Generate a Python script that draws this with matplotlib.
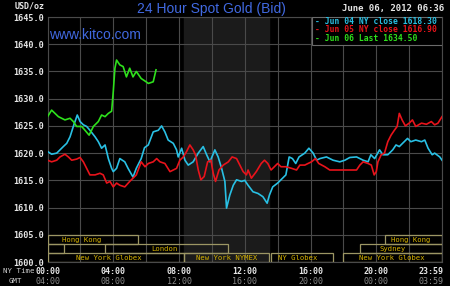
import matplotlib
matplotlib.use("Agg")
import matplotlib.pyplot as plt
from matplotlib.patches import Rectangle
import matplotlib.transforms as mtransforms

# hours since midnight NY time, bid price USD/oz
jun04_t = [0, 0.25, 0.56, 0.76, 0.96, 1.17, 1.37, 1.57, 1.81, 1.98, 2.18, 2.38, 2.58, 2.89,
           3.09, 3.29, 3.5, 3.7, 3.9, 4.0, 4.2, 4.4, 4.7, 4.9, 5.2, 5.4, 5.7, 5.9, 6.13, 6.43,
           6.74, 6.94, 7.14, 7.34, 7.65, 7.85, 7.95, 8.16, 8.36, 8.56, 8.86, 9.17, 9.47, 9.68,
           9.88, 10.18, 10.38, 10.59, 10.79, 10.89, 11.09, 11.3, 11.5, 11.8, 12.0, 12.2, 12.5,
           12.8, 13.1, 13.36, 13.5, 13.7, 14.0, 14.3, 14.5, 14.7, 14.9, 15.1, 15.3, 15.65, 15.9,
           16.16, 16.37, 16.57, 16.97, 17.37, 17.78, 18.09, 18.39, 18.8, 19.2, 19.5, 19.67, 19.9,
           20.2, 20.4, 20.7, 21.0, 21.2, 21.4, 21.7, 21.9, 22.1, 22.4, 22.75, 22.95, 23.15, 23.4,
           23.55, 23.86, 24.0]
jun04_p = [1620.3, 1619.8, 1620.0, 1620.6, 1621.2, 1621.8, 1623.0, 1624.9, 1627.0, 1625.8, 1625.2,
           1624.9, 1624.2, 1623.0, 1622.1, 1620.9, 1621.5, 1619.0, 1617.2, 1616.6, 1617.2, 1619.0,
           1618.4, 1617.2, 1615.6, 1617.2, 1619.0, 1621.0, 1621.5, 1623.9, 1624.2, 1625.0, 1623.9,
           1622.4, 1621.8, 1620.6, 1619.3, 1620.9, 1618.7, 1617.8, 1618.4, 1620.0, 1621.2, 1619.7,
           1618.4, 1620.6, 1619.3, 1617.2, 1614.8, 1609.9, 1612.3, 1614.1, 1615.1, 1614.8, 1615.0,
           1614.1, 1612.9, 1612.6, 1612.0, 1610.8, 1612.3, 1613.8, 1614.5, 1615.4, 1616.0, 1619.3,
           1619.0, 1618.1, 1619.3, 1620.0, 1620.9, 1620.0, 1618.7, 1619.0, 1619.3, 1618.7, 1618.4,
           1618.7, 1619.2, 1619.3, 1618.7, 1618.4, 1619.7, 1619.0, 1620.6, 1619.7, 1619.7, 1620.6,
           1621.5, 1621.2, 1622.1, 1622.7, 1622.1, 1622.4, 1622.1, 1622.4, 1620.9, 1619.7, 1620.0,
           1619.3, 1618.7]

jun05_t = [0, 0.25, 0.56, 0.76, 1.06, 1.27, 1.47, 1.77, 1.98, 2.18, 2.38, 2.58, 2.89, 3.19, 3.39,
           3.6, 3.8, 4.0, 4.2, 4.4, 4.7, 5.0, 5.2, 5.4, 5.7, 5.93, 6.13, 6.43, 6.64, 6.84, 7.14,
           7.45, 7.65, 7.85, 8.05, 8.26, 8.46, 8.66, 8.86, 9.0, 9.17, 9.33, 9.53, 9.74, 9.94,
           10.08, 10.22, 10.43, 10.69, 11.0, 11.23, 11.5, 11.7, 11.9, 12.1, 12.2, 12.4, 12.7,
           13.0, 13.2, 13.4, 13.6, 13.8, 14.0, 14.2, 14.5, 14.85, 15.15, 15.35, 15.65, 15.85,
           16.06, 16.3, 16.5, 16.87, 17.17, 17.68, 18.09, 18.5, 18.8, 19.0, 19.2, 19.5, 19.7,
           19.87, 20.0, 20.1, 20.3, 20.5, 20.7, 20.9, 21.1, 21.27, 21.4, 21.57, 21.77, 22.0,
           22.2, 22.4, 22.75, 23.05, 23.35, 23.55, 23.75, 24.0]
jun05_p = [1618.7, 1618.4, 1618.7, 1619.3, 1619.8, 1619.3, 1618.7, 1618.9, 1619.2, 1618.4, 1617.2,
           1616.0, 1616.0, 1616.3, 1616.0, 1614.5, 1614.8, 1613.8, 1614.5, 1614.1, 1613.8, 1614.8,
           1615.4, 1616.0, 1618.4, 1617.5, 1618.1, 1618.4, 1619.0, 1618.4, 1618.1, 1616.6, 1616.9,
           1617.2, 1618.7, 1619.3, 1620.3, 1621.5, 1620.6, 1619.7, 1616.9, 1615.1, 1615.7, 1618.4,
           1618.7, 1616.3, 1614.8, 1616.9, 1617.8, 1618.4, 1619.3, 1619.0, 1617.8, 1616.6, 1616.0,
           1616.9, 1615.4, 1616.6, 1618.1, 1618.7, 1618.1, 1616.9, 1617.5, 1618.1, 1617.5, 1617.5,
           1617.2, 1616.9, 1617.8, 1617.8, 1618.1, 1618.4, 1619.0, 1618.1, 1617.5, 1616.9, 1616.9,
           1616.9, 1616.9, 1616.9, 1617.8, 1618.4, 1618.1, 1617.8, 1616.0, 1616.6, 1618.4, 1619.7,
           1620.0, 1622.1, 1623.3, 1624.2, 1624.9, 1627.3, 1626.1, 1625.0, 1625.5, 1626.1, 1624.9,
           1625.5, 1625.3, 1625.8, 1625.2, 1625.5, 1626.7]

jun06_t = [0, 0.25, 0.66, 1.06, 1.37, 1.57, 1.77, 2.08, 2.28, 2.53, 2.79, 3.09, 3.29, 3.5, 3.7,
           3.9, 4.0, 4.1, 4.2, 4.4, 4.6, 4.8, 5.0, 5.2, 5.4, 5.7, 6.0, 6.13, 6.43, 6.6]
jun06_p = [1626.7, 1627.9, 1626.7, 1626.1, 1626.4, 1625.8, 1624.9, 1624.9, 1624.2, 1623.3, 1624.9,
           1625.8, 1627.0, 1626.7, 1627.3, 1627.7, 1631.3, 1635.6, 1637.1, 1636.2, 1635.9, 1634.0,
           1635.6, 1634.0, 1635.0, 1633.7, 1633.1, 1632.8, 1633.1, 1635.3]

legend_text = ["- Jun 04 NY close 1618.30", "- Jun 05 NY close 1616.90", "- Jun 06 Last 1634.50"]
ny_labels = ["00:00", "04:00", "08:00", "12:00", "16:00", "20:00"]
gmt_labels = ["04:00", "08:00", "12:00", "16:00", "20:00", "00:00"]

# trading sessions: (row, start, end, label, label centre)
sessions = [
    (2, 0, 5.5, "Hong Kong", 2.1),
    (2, 20.5, 24, "Hong Kong", 22.1),
    (1, 0, 1.0, "", 0),
    (1, 3.5, 11.0, "London", 7.1),
    (1, 19.0, 24, "Sydney", 21.0),
    (0, 0, 8.33, "New York Globex", 3.7),
    (0, 8.33, 13.5, "New York NYMEX", 10.9),
    (0, 13.6, 17.35, "NY Globex", 15.2),
    (0, 18.0, 24, "New York Globex", 20.95),
]

BLUE = "#4169e1"
MONO = "DejaVu Sans Mono"
GRID = "#4a4a4a"

fig = plt.figure(figsize=(4.5, 2.86), dpi=100, facecolor="black")
ax = fig.add_axes([0.1056, 0.0839, 0.8767, 0.8566], facecolor="black")

ax.set_xlim(0, 24)
ax.set_ylim(1600, 1645)

# NYMEX pit hours shading
ax.axvspan(8.33, 13.5, color="#1b1b1b", zorder=0)

ax.set_xticks(range(0, 25, 2))
ax.set_xticklabels([])
ax.set_yticks(range(1600, 1646, 5))
ax.set_yticklabels(["%.1f" % v for v in range(1600, 1646, 5)], family=MONO, fontsize=6.1,
                   color="#e6e6e6", fontweight="bold")
ax.tick_params(length=0, pad=2.5)
ax.grid(True, color=GRID, lw=0.8, zorder=1)
for s in ax.spines.values():
    s.set_color(GRID)
    s.set_linewidth(0.8)

ax.plot(jun04_t, jun04_p, color="#29c0e4", lw=1.2, zorder=3)
ax.plot(jun05_t, jun05_p, color="#e8131b", lw=1.2, zorder=3)
ax.plot(jun06_t, jun06_p, color="#2ee01c", lw=1.2, zorder=4)

# session boxes along the bottom
rowh = 1.65
for row, t0, t1, lab, tc in sessions:
    ax.add_patch(Rectangle((t0, 1600 + row * rowh), t1 - t0, rowh, fill=False,
                           edgecolor="#9c9664", lw=0.9, zorder=5))
    if lab:
        ax.text(tc, 1600 + row * rowh + rowh / 2, lab, family=MONO, fontsize=5.2,
                color="#d8b400", ha="center", va="center", zorder=6)

# legend box
ax.add_patch(Rectangle((0.6705, 0.8857), 0.3295, 0.1143, transform=ax.transAxes,
                       facecolor="black", edgecolor="#6a6a6a", lw=0.8, zorder=7))
for txt, col, y in zip(legend_text, ["#29c0e4", "#e8131b", "#2ee01c"], [0.983, 0.949, 0.914]):
    ax.text(0.679, y, txt, transform=ax.transAxes, family=MONO, fontsize=5.8,
            color=col, fontweight="bold", va="center", zorder=8)

ax.text(0.004, 0.9265, "www.kitco.com", transform=ax.transAxes, family="Liberation Sans",
        fontsize=10, color=BLUE, va="center", zorder=8)

# time labels below the axes
trans = mtransforms.blended_transform_factory(ax.transData, fig.transFigure)
for i, (a, b) in enumerate(zip(ny_labels, gmt_labels)):
    ax.text(i * 4, 1 - 271 / 286, a, transform=trans, family=MONO, fontsize=6.0,
            color="#e6e6e6", fontweight="bold", ha="center", va="center")
    ax.text(i * 4, 1 - 281 / 286, b, transform=trans, family=MONO, fontsize=6.0,
            color="#8a8a8a", ha="center", va="center")
ax.text(24.1, 1 - 271 / 286, "23:59", transform=trans, family=MONO, fontsize=6.0,
        color="#e6e6e6", fontweight="bold", ha="right", va="center")
ax.text(24.1, 1 - 281 / 286, "03:59", transform=trans, family=MONO, fontsize=6.0,
        color="#8a8a8a", ha="right", va="center")

fig.text(3 / 450, 1 - 271 / 286, "NY Time", family=MONO, fontsize=5.3, color="#cfcfcf",
         va="center")
fig.text(9 / 450, 1 - 281 / 286, "GMT", family=MONO, fontsize=5.3, color="#cfcfcf",
         va="center")
fig.text(45 / 450, 1 - 6 / 286, "USD/oz", family=MONO, fontsize=6.0, color="#e6e6e6",
         fontweight="bold", ha="right", va="center")
fig.text(211 / 450, 1 - 9 / 286, "24 Hour Spot Gold (Bid)", family="Liberation Sans",
         fontsize=10, color=BLUE, ha="center", va="center")
fig.text(444 / 450, 1 - 9 / 286, "June 06, 2012 06:36", family=MONO, fontsize=6.5,
         color="#e6e6e6", fontweight="bold", ha="right", va="center")

fig.savefig("out.png", dpi=100, facecolor="black")
